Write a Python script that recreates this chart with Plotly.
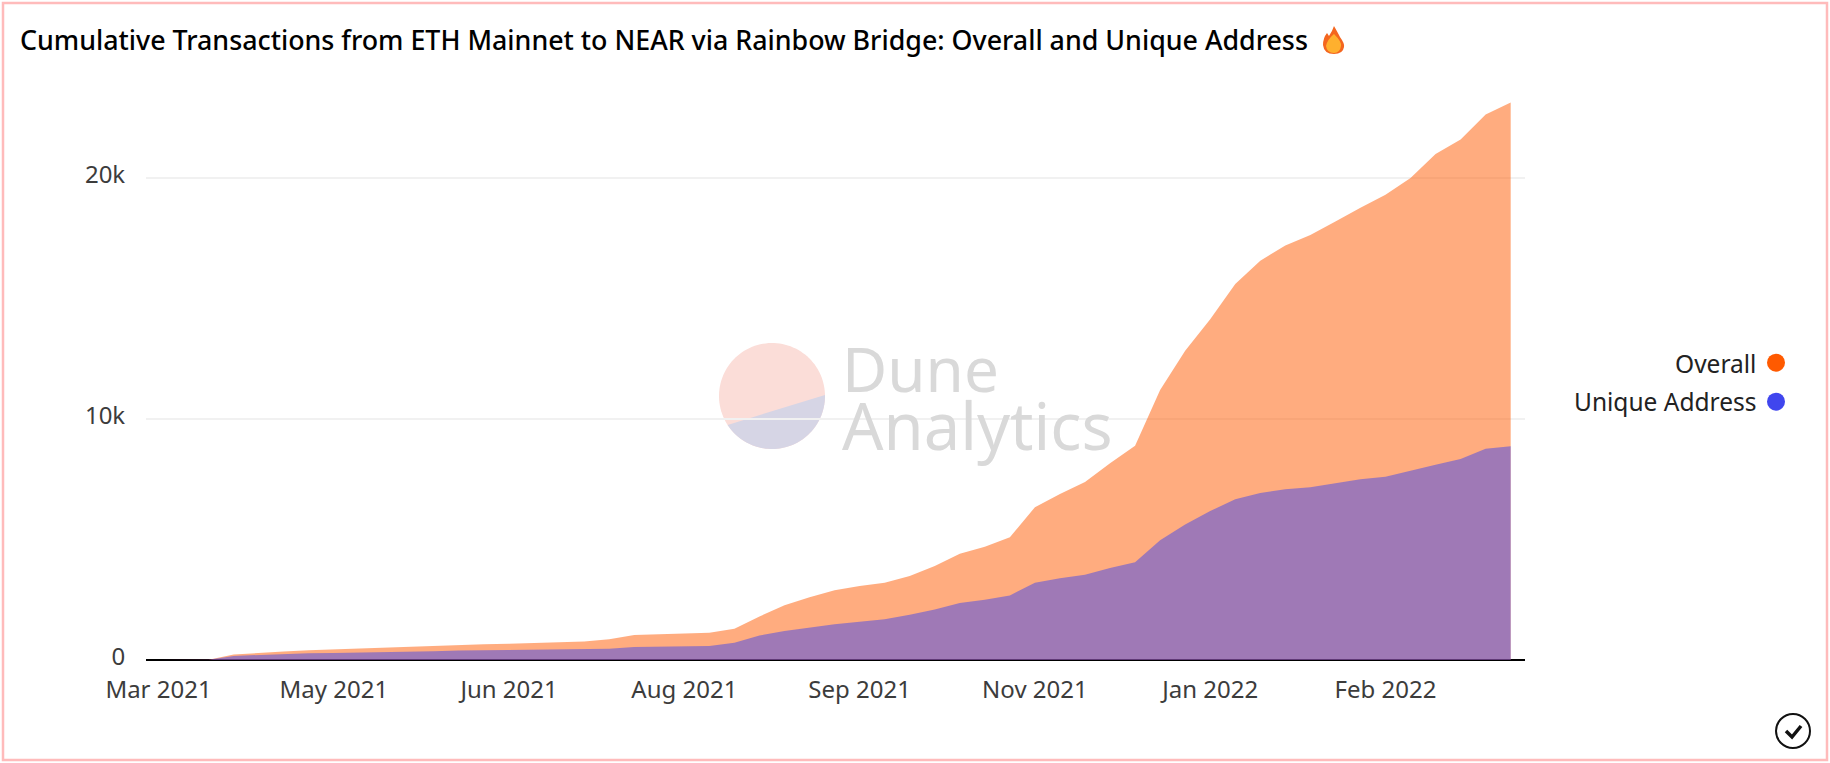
import numpy as np
import plotly.graph_objects as go

WIDTH = 1830
HEIGHT = 763
FONT = "Noto Sans"

dates = [
    "2021-03-15", "2021-03-22", "2021-03-29", "2021-04-05", "2021-04-12", "2021-04-19", "2021-04-26",
    "2021-05-03", "2021-05-10", "2021-05-17", "2021-05-24", "2021-05-31", "2021-06-07", "2021-06-14",
    "2021-06-21", "2021-06-28", "2021-07-05", "2021-07-12", "2021-07-19", "2021-07-26", "2021-08-02",
    "2021-08-09", "2021-08-16", "2021-08-23", "2021-08-30", "2021-09-06", "2021-09-13", "2021-09-20",
    "2021-09-27", "2021-10-04", "2021-10-11", "2021-10-18", "2021-10-25", "2021-11-01", "2021-11-08",
    "2021-11-15", "2021-11-22", "2021-11-29", "2021-12-06", "2021-12-13", "2021-12-20", "2021-12-27",
    "2022-01-03", "2022-01-10", "2022-01-17", "2022-01-24", "2022-01-31", "2022-02-07", "2022-02-14",
    "2022-02-21", "2022-02-28", "2022-03-07", "2022-03-14", "2022-03-21", "2022-03-28",
]
overall = [
    0, 0, 10, 230, 300, 350, 400, 440, 470, 500, 540, 590, 640, 650, 670,
    700, 760, 770, 860, 1040, 1070, 1100, 1130, 1300, 1810, 2270, 2600, 2890, 3070, 3210,
    3490, 3900, 4410, 4700, 5090, 6340, 6890, 7390, 8160, 8890, 11200, 12830, 14140, 15600, 16570,
    17200, 17640, 18200, 18770, 19300, 20000, 21000, 21600, 22630, 23130,
]
unique_address = [
    0, 0, 10, 170, 210, 250, 280, 290, 300, 320, 330, 360, 390, 400, 410,
    420, 430, 430, 470, 540, 550, 570, 580, 720, 1020, 1200, 1355, 1480, 1590, 1690,
    1880, 2100, 2370, 2500, 2680, 3210, 3390, 3540, 3820, 4060, 4970, 5620, 6180, 6670, 6930,
    7090, 7170, 7330, 7500, 7600, 7860, 8100, 8340, 8770, 8870,
]
tick_dates = ["2021-03-15", "2021-05-03", "2021-06-21", "2021-08-09", "2021-09-27", "2021-11-15", "2022-01-03", "2022-02-21"]
tick_labels = ["Mar 2021", "May 2021", "Jun 2021", "Aug 2021", "Sep 2021", "Nov 2021", "Jan 2022", "Feb 2022"]
y_ticks = [0, 10000, 20000]
y_labels = ["0", "10k", "20k"]

# plot box in page pixels
LEFT, RIGHT, TOP, BOTTOM = 146, 1525, 90, 660
PX_PER_UNIT = 241 / 10000
y_top = (BOTTOM - TOP) / PX_PER_UNIT


def px(x):
    return (x - LEFT) / (RIGHT - LEFT)


def py(y):
    return (BOTTOM - y) / (BOTTOM - TOP)


def poly(points):
    return "M " + " L ".join(f"{px(x):.5f},{py(y):.5f}" for x, y in points) + " Z"


def paper_shape(**kw):
    return dict(xref="paper", yref="paper", **kw)


fig = go.Figure()
fig.add_trace(go.Scatter(
    x=dates, y=overall, name="Overall", mode="lines", fill="tozeroy",
    line=dict(width=0), fillcolor="rgba(255,90,0,0.5)", showlegend=False,
))
fig.add_trace(go.Scatter(
    x=dates, y=unique_address, name="Unique Address", mode="lines", fill="tozeroy",
    line=dict(width=0), fillcolor="rgba(64,70,238,0.5)", showlegend=False,
))

shapes = []

# outer card border
shapes.append(paper_shape(type="rect", x0=px(3), x1=px(1827), y0=py(3), y1=py(760),
                          line=dict(color="#FFBBBB", width=2.5)))

# Dune logo watermark
cx, cy, r = 772, 396, 53
shapes.append(paper_shape(type="path", layer="below", line=dict(width=0), fillcolor="#FBDDD8",
                          path=poly([(cx + r * np.cos(t), cy + r * np.sin(t)) for t in np.linspace(0, 2 * np.pi, 120)])))
a0, a1 = np.arctan2(-1, 53), np.arctan2(28, -43)
shapes.append(paper_shape(type="path", layer="below", line=dict(width=0), fillcolor="#D6D5E5",
                          path=poly([(cx + r * np.cos(t), cy + r * np.sin(t)) for t in np.linspace(a0, a1, 60)])))

# legend dots
for leg_y, color in [(362.7, "#FF5A00"), (401.7, "#4046EE")]:
    shapes.append(paper_shape(type="circle", x0=px(1767), x1=px(1785), y0=py(leg_y - 9), y1=py(leg_y + 9),
                              fillcolor=color, line=dict(width=0)))

# flame after the title
shapes.append(paper_shape(type="path", fillcolor="#F4661F", line=dict(width=0),
                          path=f"M {px(1334):.5f},{py(26):.5f} "
                               f"Q {px(1338):.5f},{py(33):.5f} {px(1340):.5f},{py(37):.5f} "
                               f"Q {px(1345):.5f},{py(44):.5f} {px(1344):.5f},{py(47):.5f} "
                               f"Q {px(1343):.5f},{py(54):.5f} {px(1334):.5f},{py(54):.5f} "
                               f"Q {px(1324):.5f},{py(54):.5f} {px(1323):.5f},{py(45):.5f} "
                               f"Q {px(1323):.5f},{py(38):.5f} {px(1327):.5f},{py(33):.5f} "
                               f"L {px(1329):.5f},{py(36):.5f} Q {px(1332):.5f},{py(32):.5f} {px(1334):.5f},{py(26):.5f} Z"))
shapes.append(paper_shape(type="path", fillcolor="#FFB02E", line=dict(width=0),
                          path=f"M {px(1334):.5f},{py(34):.5f} "
                               f"Q {px(1342):.5f},{py(42):.5f} {px(1341):.5f},{py(46):.5f} "
                               f"Q {px(1340):.5f},{py(53):.5f} {px(1334):.5f},{py(53):.5f} "
                               f"Q {px(1327):.5f},{py(53):.5f} {px(1326):.5f},{py(46):.5f} "
                               f"Q {px(1327):.5f},{py(40):.5f} {px(1334):.5f},{py(34):.5f} Z"))

# check mark icon bottom right
shapes.append(paper_shape(type="circle", x0=px(1776), x1=px(1810), y0=py(714), y1=py(748),
                          line=dict(color="#111111", width=2)))
shapes.append(paper_shape(type="path", line=dict(color="#111111", width=3.5),
                          path=f"M {px(1786):.5f},{py(731):.5f} L {px(1792):.5f},{py(737):.5f} L {px(1801):.5f},{py(726):.5f}"))

annotations = [
    dict(text="Dune", x=px(840), y=py(368), xanchor="left", yanchor="middle", showarrow=False,
         font=dict(family=FONT, size=62, color="#D9D9D9")),
    dict(text="Analytics", x=px(840), y=py(425), xanchor="left", yanchor="middle", showarrow=False,
         font=dict(family=FONT, size=65, color="#D9D9D9")),
    dict(text="Overall", x=px(1758), y=py(363), xanchor="right", yanchor="middle", showarrow=False,
         font=dict(family=FONT, size=24.5, color="#222222")),
    dict(text="Unique Address", x=px(1758), y=py(402), xanchor="right", yanchor="middle", showarrow=False,
         font=dict(family=FONT, size=24.5, color="#222222")),
]
for a in annotations:
    a.update(xref="paper", yref="paper")

fig.update_layout(
    width=WIDTH,
    height=HEIGHT,
    margin=dict(l=LEFT, r=WIDTH - RIGHT, t=TOP, b=HEIGHT - BOTTOM, pad=0),
    paper_bgcolor="white",
    plot_bgcolor="white",
    showlegend=False,
    title=dict(
        text="Cumulative Transactions from ETH Mainnet to NEAR via Rainbow Bridge: Overall and Unique Address",
        x=20 / WIDTH, xanchor="left", y=1 - 41 / HEIGHT, yanchor="middle",
        font=dict(family=FONT, size=26.8, color="#000000", weight=500),
    ),
    shapes=shapes,
    annotations=annotations,
)
fig.update_xaxes(
    type="date",
    range=["2021-03-11 12:00", "2022-04-01"],
    tickmode="array", tickvals=tick_dates, ticktext=tick_labels,
    showgrid=False, zeroline=False, showline=False,
    ticks="outside", ticklen=8, tickcolor="rgba(0,0,0,0)",
    tickfont=dict(family=FONT, size=24, color="#3C3C3C"),
)
fig.update_yaxes(
    range=[0, y_top],
    tickmode="array", tickvals=y_ticks, ticktext=y_labels,
    showgrid=True, gridcolor="#F1F1F1", gridwidth=1.5,
    zeroline=True, zerolinecolor="#000000", zerolinewidth=2,
    showline=False,
    ticks="outside", ticklen=15, tickcolor="rgba(0,0,0,0)",
    ticklabelshift=-3,
    tickfont=dict(family=FONT, size=24, color="#3C3C3C"),
)

fig.write_html("out.html", config=dict(displayModeBar=False), post_script="document.body.style.margin='0';")
